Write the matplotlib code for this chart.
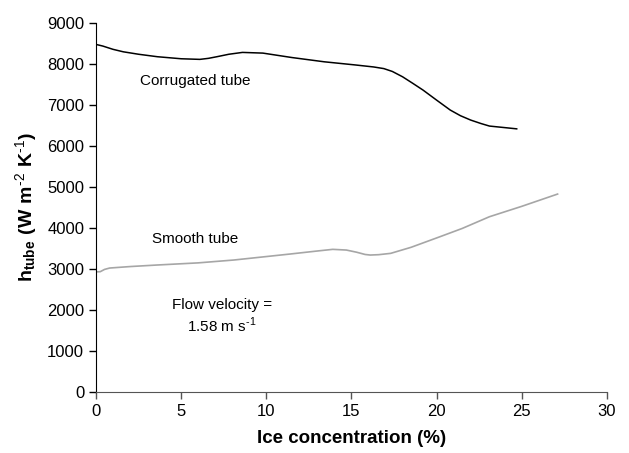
import matplotlib.pyplot as plt

plt.rcParams["font.family"] = ["Liberation Sans", "DejaVu Sans"]
plt.rcParams["mathtext.fontset"] = "custom"
plt.rcParams["mathtext.rm"] = "Liberation Sans"
plt.rcParams["mathtext.bf"] = "Liberation Sans:bold"

# corrugated tube
corr_x = [0.0, 0.4, 1.0, 1.6, 2.5, 3.6, 5.0, 6.1, 6.6, 7.1, 7.8, 8.6, 9.8, 11.5, 13.4, 15.2,
          16.3, 16.9, 17.4, 18.0, 18.6, 19.2, 20.0, 20.8, 21.4, 22.0, 22.6, 23.1, 24.0, 24.7]
corr_y = [8480, 8440, 8360, 8300, 8240, 8180, 8130, 8115, 8140, 8180, 8240, 8285, 8268, 8160,
          8056, 7980, 7930, 7890, 7820, 7690, 7530, 7366, 7120, 6878, 6740, 6634, 6550, 6488,
          6450, 6420]

# smooth tube
smooth_x = [0.0, 0.25, 0.5, 0.8, 2.0, 3.6, 6.0, 8.1, 11.4, 13.0, 13.9, 14.7, 15.3, 15.8, 16.1,
            16.6, 17.3, 18.5, 20.2, 21.5, 23.1, 25.0, 27.1]
smooth_y = [2930, 2935, 2990, 3024, 3060, 3098, 3150, 3220, 3366, 3440, 3480, 3463, 3410, 3355,
            3341, 3350, 3382, 3530, 3789, 3990, 4276, 4530, 4829]

fig = plt.figure(figsize=(6.29, 4.53), dpi=100)
ax = fig.add_axes([0.1526, 0.1347, 0.8124, 0.8143])

ax.plot(corr_x, corr_y, color="black", lw=1.1)
ax.plot(smooth_x, smooth_y, color="#a6a6a6", lw=1.2)

ax.set_xlim(0, 30)
ax.set_ylim(0, 9000)
ax.set_xticks(range(0, 31, 5))
ax.set_yticks(range(0, 9001, 1000))
ax.spines["top"].set_visible(False)
ax.spines["right"].set_visible(False)
ax.spines["bottom"].set_color("#555555")
ax.tick_params(labelsize=12, length=5, width=1)
ax.tick_params(axis="x", colors="#555555", labelcolor="black")

ax.text(2.6, 7585, "Corrugated tube", fontsize=11, va="center")
ax.text(3.3, 3724, "Smooth tube", fontsize=11, va="center")
ax.text(7.4, 2122, "Flow velocity =", fontsize=11, ha="center", va="center")
ax.text(7.4, 1634, r"1.58 m s$^{\text{-1}}$", fontsize=11, ha="center", va="center")

ax.set_xlabel("Ice concentration (%)", fontsize=13.5, fontweight="bold", labelpad=8)
ax.set_ylabel(r"$\mathbf{h_{tube}\ (W\ m^{\text{-2}}\ K^{\text{-1}})}$", fontsize=14, labelpad=6)

fig.savefig("out.png", dpi=100)
